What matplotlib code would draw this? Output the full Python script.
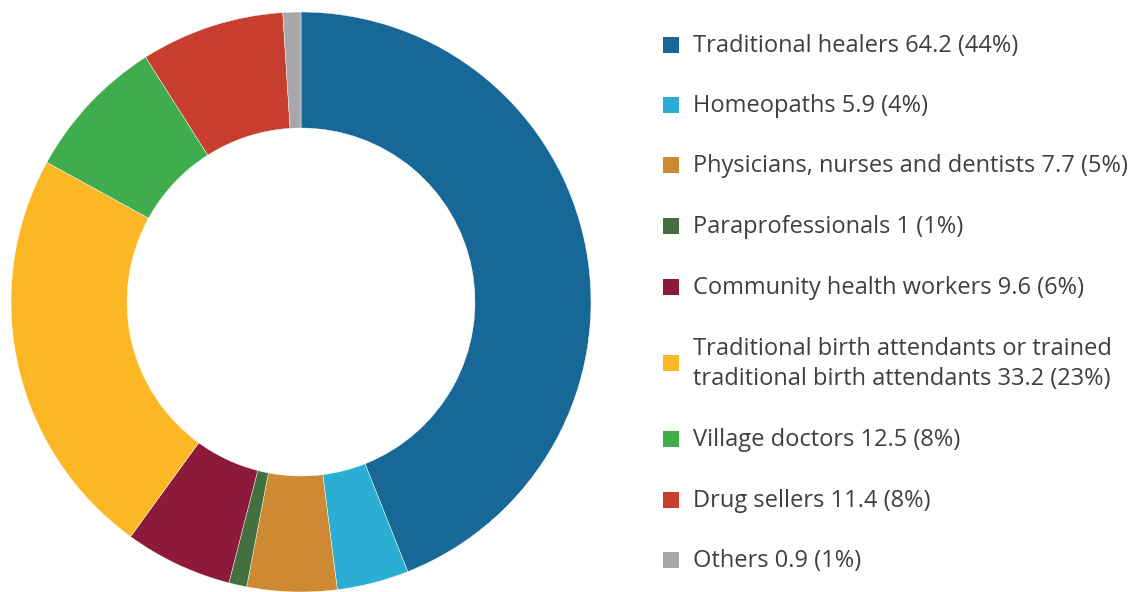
import matplotlib.pyplot as plt
from matplotlib.patches import Rectangle

# Data
labels = ['Traditional healers 64.2 (44%)',
          'Homeopaths 5.9 (4%)',
          'Physicians, nurses and dentists 7.7 (5%)',
          'Paraprofessionals 1 (1%)',
          'Community health workers 9.6 (6%)',
          'Traditional birth attendants or trained\ntraditional birth attendants 33.2 (23%)',
          'Village doctors 12.5 (8%)',
          'Drug sellers 11.4 (8%)',
          'Others 0.9 (1%)']
values = [64.2, 5.9, 7.7, 1, 9.6, 33.2, 12.5, 11.4, 0.9]
# slices in the original are sized by the rounded shares
shares = [44, 4, 5, 1, 6, 23, 8, 8, 1]
colors = ['#176896', '#2aaed4', '#cd8a33', '#447040', '#8c1a3a',
          '#fbb724', '#3fac4d', '#c73d2e', '#a7a8ab']

plt.rcParams['font.family'] = ['Open Sans', 'DejaVu Sans']

fig = plt.figure(figsize=(11.38, 5.92), dpi=100)
W, H = 1138, 592

# Donut
ax = fig.add_axes([11 / W, 0 / H, 580 / W, 580 / H])
ax.pie(shares, colors=colors, startangle=90, counterclock=False,
       wedgeprops=dict(width=0.4, edgecolor='white', linewidth=0.3))
ax.set_xlim(-1, 1)
ax.set_ylim(-1, 1)
ax.set_aspect('equal')
ax.axis('off')

# Legend, drawn by hand
row_y = [46, 106, 166, 227, 288, 364, 440, 501, 561]
sq = 16
for lab, col, y in zip(labels, colors, row_y):
    fig.patches.append(Rectangle((663 / W, 1 - (y - 1 + sq / 2) / H), sq / W, sq / H,
                                 transform=fig.transFigure, facecolor=col,
                                 edgecolor='none'))
    fig.text(693 / W, 1 - y / H, lab, fontsize=17, color='#3f3f3f',
             va='center', ha='left', linespacing=1.3)

fig.savefig('out.png', dpi=100)
